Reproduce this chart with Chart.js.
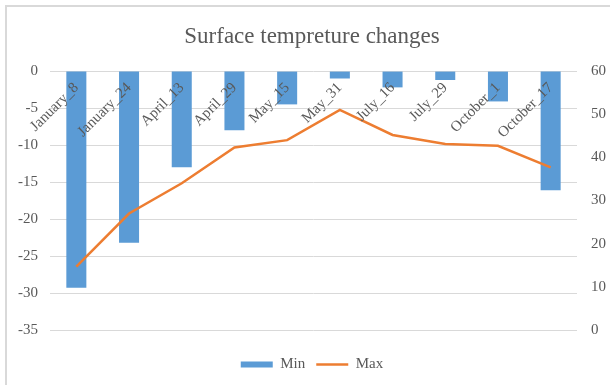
<!DOCTYPE html>
<html>
<head>
<meta charset="utf-8">
<script src="https://cdn.jsdelivr.net/npm/chart.js@4.4.1/dist/chart.umd.min.js"></script>
<style>
  html, body { margin: 0; padding: 0; background: #ffffff; }
  #wrap { width: 610px; height: 385px; position: relative; }
</style>
</head>
<body>
<div id="wrap"><canvas id="c" width="610" height="385"></canvas></div>
<script>
const categories = ['January_8', 'January_24', 'April_13', 'April_29', 'May_15', 'May_31', 'July_16', 'July_29', 'October_1', 'October_17'];
const minValues = [-29.3, -23.2, -13.0, -8.0, -4.5, -1.0, -2.2, -1.2, -4.1, -16.1];
const maxValues = [14.7, 27.0, 34.0, 42.3, 44.0, 51.0, 45.2, 43.1, 42.7, 37.7];
const chartTitle = 'Surface tempreture changes';
const seriesNames = ['Min', 'Max'];

const SERIF = "'Liberation Serif', 'Times New Roman', serif";
const TXT = '#595959';
const GRID = '#d9d9d9';

const frame = {
  id: 'frame',
  beforeDraw(chart) {
    const ctx = chart.ctx;
    ctx.save();
    ctx.fillStyle = '#ffffff';
    ctx.fillRect(0, 0, chart.width, chart.height);
    ctx.strokeStyle = '#d9d9d9';
    ctx.lineWidth = 2;
    ctx.beginPath();
    ctx.moveTo(6, chart.height);
    ctx.lineTo(6, 6);
    ctx.lineTo(chart.width, 6);
    ctx.stroke();
    ctx.restore();
  }
};

new Chart(document.getElementById('c'), {
  type: 'bar',
  data: {
    labels: categories,
    datasets: [
      {
        type: 'line',
        label: seriesNames[1],
        data: maxValues,
        yAxisID: 'y1',
        borderColor: '#ed7d31',
        backgroundColor: '#ed7d31',
        borderWidth: 2.5,
        pointRadius: 0,
        tension: 0,
        order: 0
      },
      {
        type: 'bar',
        label: seriesNames[0],
        data: minValues,
        yAxisID: 'y',
        backgroundColor: '#5b9bd5',
        borderWidth: 0,
        barPercentage: 0.38,
        categoryPercentage: 1.0,
        order: 1
      }
    ]
  },
  options: {
    responsive: false,
    animation: false,
    layout: { padding: { top: 0, left: 14, right: 0, bottom: 3 } },
    plugins: {
      title: {
        display: true,
        text: chartTitle,
        color: TXT,
        font: { family: SERIF, size: 23, weight: 'normal' },
        padding: { top: 23, bottom: 20.5 }
      },
      legend: {
        display: true,
        position: 'bottom',
        reverse: true,
        title: {
          display: true,
          text: ' ',
          font: { size: 1 },
          padding: { top: 14.5, bottom: 0.3 }
        },
        labels: {
          color: TXT,
          font: { family: SERIF, size: 15 },
          usePointStyle: true,
          pointStyleWidth: 32,
          boxHeight: 6,
          padding: 11,
          generateLabels(chart) {
            const items = Chart.defaults.plugins.legend.labels.generateLabels(chart);
            items.forEach(it => {
              if (it.text === seriesNames[0]) {
                it.pointStyle = 'rect';
                it.lineWidth = 0;
                it.strokeStyle = '#5b9bd5';
              } else {
                it.pointStyle = 'line';
                it.lineWidth = 2.5;
                it.strokeStyle = '#ed7d31';
              }
            });
            return items;
          }
        }
      },
      tooltip: { enabled: false }
    },
    scales: {
      x: {
        type: 'category',
        position: { y: 0 },
        grid: { display: false, drawTicks: false },
        border: { display: false },
        ticks: {
          z: 1,
          color: TXT,
          font: { family: SERIF, size: 15 },
          minRotation: 45,
          maxRotation: 45,
          autoSkip: false,
          padding: 8
        }
      },
      y: {
        position: 'left',
        min: -35,
        max: 0,
        grid: { color: GRID, lineWidth: 1, drawTicks: false },
        border: { display: false },
        ticks: {
          stepSize: 5,
          color: TXT,
          font: { family: SERIF, size: 15 },
          padding: 12
        },
        afterFit(s) { s.width = 36; }
      },
      y1: {
        position: 'right',
        min: 0,
        max: 60,
        grid: { drawOnChartArea: false, drawTicks: false },
        border: { display: false },
        ticks: {
          stepSize: 10,
          color: TXT,
          font: { family: SERIF, size: 15 },
          padding: 14
        },
        afterFit(s) { s.width = 33; }
      }
    }
  },
  plugins: [frame]
});
</script>
</body>
</html>
